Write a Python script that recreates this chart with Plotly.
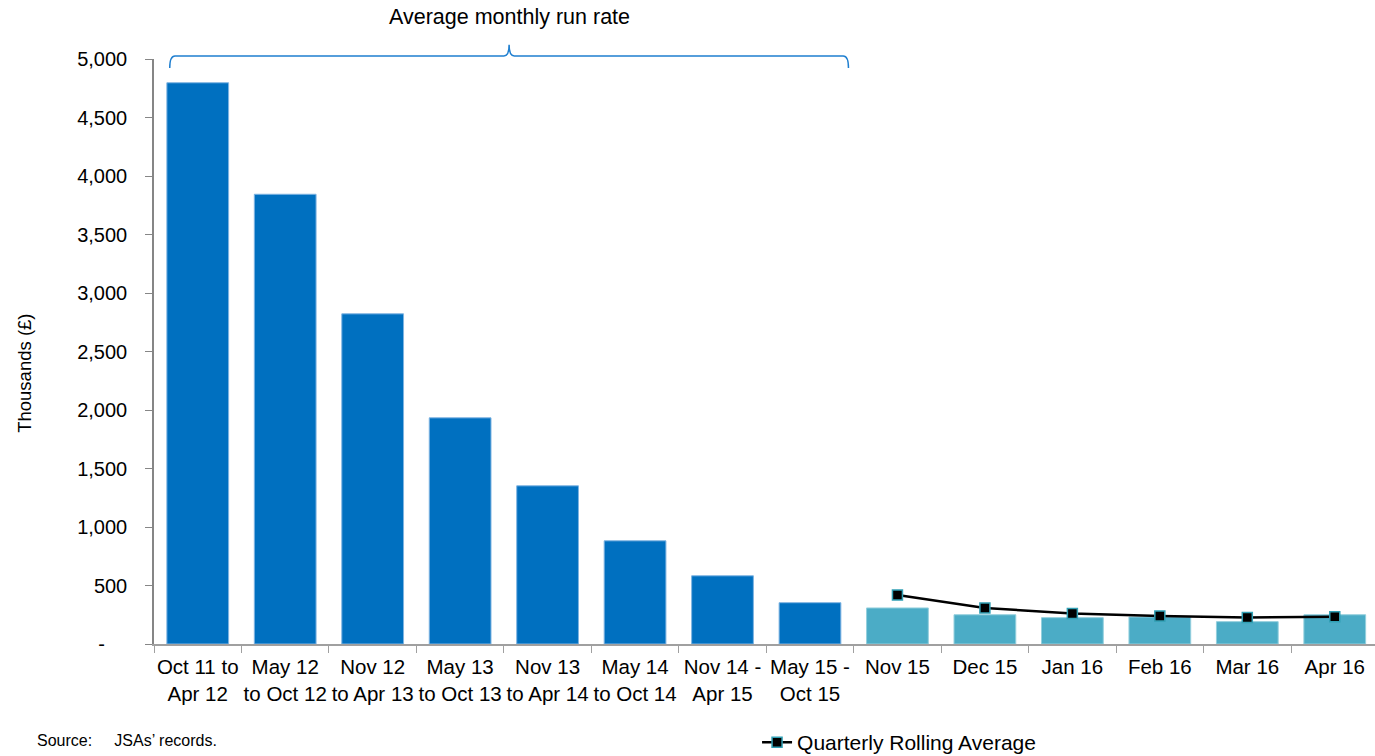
import plotly.graph_objects as go

categories = [
    "Oct 11 to<br>Apr 12", "May 12<br>to Oct 12", "Nov 12<br>to Apr 13", "May 13<br>to Oct 13",
    "Nov 13<br>to Apr 14", "May 14<br>to Oct 14", "Nov 14 -<br>Apr 15", "May 15 -<br>Oct 15",
    "Nov 15", "Dec 15", "Jan 16", "Feb 16", "Mar 16", "Apr 16",
]
run_rate_values = [4797, 3844, 2822, 1933, 1352, 882, 583, 353]
monthly_values = [308, 250, 225, 231, 191, 250]
rolling_categories = ["Nov 15", "Dec 15", "Jan 16", "Feb 16", "Mar 16", "Apr 16"]
rolling_values = [419, 308, 261, 239, 227, 233]
y_tickvals = [0, 500, 1000, 1500, 2000, 2500, 3000, 3500, 4000, 4500, 5000]
y_ticktext = ["-\u00a0\u00a0\u00a0\u00a0", "500", "1,000", "1,500", "2,000", "2,500",
              "3,000", "3,500", "4,000", "4,500", "5,000"]

DARK = "#0070C0"
TEAL = "#4BACC6"
FONT = "Liberation Sans, Arial, sans-serif"

bar_values = run_rate_values + monthly_values
bar_colors = [DARK] * len(run_rate_values) + [TEAL] * len(monthly_values)
bar_lines = ["#7FB4E2"] * len(run_rate_values) + ["#93CFDD"] * len(monthly_values)

fig = go.Figure()
fig.add_trace(go.Bar(
    x=categories, y=bar_values,
    marker=dict(color=bar_colors, line=dict(color=bar_lines, width=1)),
    showlegend=False, hoverinfo="x+y",
))
fig.add_trace(go.Scatter(
    x=rolling_categories, y=rolling_values, mode="lines+markers",
    name="Quarterly Rolling Average",
    line=dict(color="black", width=2.5),
    marker=dict(symbol="square", size=10, color="black", line=dict(color="#31A0B5", width=1.5)),
))

# brace over the run-rate group (categories 0..7)
n_rr = len(run_rate_values)
left = 0 - 0.32
right = (n_rr - 1) + 0.44
mid = (left + right) / 2
y_line, y_tip, y_peak = 1.0051, 0.9846, 1.0243
path = (f"M {left},{y_tip} Q {left},{y_line} {left+0.06},{y_line} "
        f"L {mid-0.06},{y_line} Q {mid},{y_line} {mid},{y_peak} "
        f"Q {mid},{y_line} {mid+0.06},{y_line} "
        f"L {right-0.06},{y_line} Q {right},{y_line} {right},{y_tip}")
fig.add_shape(type="path", path=path, xref="x", yref="paper",
              line=dict(color="#1F7FD0", width=1.5))

fig.add_annotation(text="Average monthly run rate", x=mid, xref="x", y=1.0718, yref="paper",
                   showarrow=False, font=dict(size=21.5, color="black", family=FONT),
                   xanchor="center", yanchor="middle")
fig.add_annotation(text="Thousands (£)", textangle=-90, x=-0.1057, xref="paper", y=0.4635,
                   yref="paper", showarrow=False, font=dict(size=18.5, color="black", family=FONT),
                   xanchor="center", yanchor="middle")
fig.add_annotation(text="Source:\u00a0\u00a0\u00a0\u00a0\u00a0JSAs\u2019 records.", x=-0.0975, xref="paper",
                   y=-0.165, yref="paper", showarrow=False,
                   font=dict(size=16, color="black", family=FONT),
                   xanchor="left", yanchor="middle")

fig.update_layout(
    width=1375, height=756,
    margin=dict(l=154, r=0, t=59, b=112, autoexpand=False),
    paper_bgcolor="white", plot_bgcolor="white",
    font=dict(family=FONT, color="black", size=20),
    bargap=0.294,
    legend=dict(orientation="h", x=0.4939, xref="paper", y=-0.1686, yanchor="middle",
                xanchor="left", font=dict(size=21, color="black", family=FONT),
                bgcolor="rgba(0,0,0,0)"),
    xaxis=dict(type="category", range=[-0.5, 13.46], showline=True, linecolor="#A0A0A0",
               linewidth=1.5, ticks="outside", tickson="boundaries", ticklen=7,
               tickcolor="#A0A0A0", showgrid=False, tickfont=dict(size=20.5, color="black"),
               tickangle=0, zeroline=False, automargin=False, ticklabelstandoff=4),
    yaxis=dict(range=[0, 5000], tickvals=y_tickvals, ticktext=y_ticktext, showline=True,
               linecolor="#868686", linewidth=1.5, ticks="outside", ticklen=7,
               tickcolor="#868686", showgrid=False, zeroline=False, automargin=False,
               tickfont=dict(size=20, color="black"), ticklabelstandoff=14),
)

fig.write_html("out.html")
